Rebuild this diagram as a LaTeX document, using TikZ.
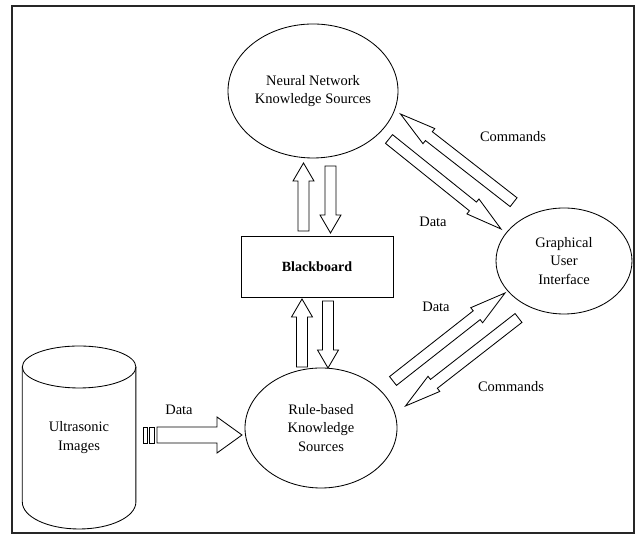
\documentclass[tikz,border=0pt]{standalone}
\usepackage{fontspec}
\setmainfont{Liberation Serif}
\usepackage{tikz}
\usetikzlibrary{shapes,arrows,calc}
\tikzset{
	source/.style   = {draw, ellipse, align=center, inner sep=0pt},
	board/.style    = {draw, rectangle, minimum width=3.8cm,
		minimum height=1.525cm, font=\bfseries},
	tag/.style      = {inner sep=0pt}, % Arrow labels
	frame/.style    = {line width=1.4pt, black!85}
}
% hollow block arrow: body half width, head half width, head length, from, to
\newcommand{\blockarrow}[5]{%
	\coordinate (hb) at ($(#5)!#3!(#4)$);
	\draw ($(#4)!#1!90:(#5)$) -- ($(hb)!#1!90:(#5)$) -- ($(hb)!#2!90:(#5)$)
	-- (#5) -- ($(hb)!#2!-90:(#5)$) -- ($(hb)!#1!-90:(#5)$)
	-- ($(#4)!#1!-90:(#5)$) -- cycle;}

\begin{document}
\begin{tikzpicture}[auto, line width=0.6pt, >=latex,
	font=\fontsize{10.3}{12.9}\selectfont]
		\useasboundingbox (0,0) rectangle (15.9,13.375);
		\draw[frame] (0.3,0.05) rectangle (15.86,13.225);
		
		\draw
		% Drawing the knowledge sources, the blackboard and the interface
		node at (7.825,11.1)[source, minimum width=4.25cm, minimum height=3.35cm] (kn) {Neural Network\\Knowledge Sources}
		node at (7.925,6.7)[board] (bb) {Blackboard}
		node at (14.1,6.85)[source, minimum width=3.4cm, minimum height=2.65cm] (gui) {Graphical\\User\\Interface}
		node at (8.025,2.675)[source, minimum width=3.8cm, minimum height=3cm] (kr) {Rule-based\\Knowledge\\Sources}
		node at (1.975,2.4375)[align=center] (us) {Ultrasonic\\Images};
		
		% Drawing the image store
		\draw (0.5575,4.2) -- (0.5575,0.825) arc[start angle=180, end angle=360, x radius=1.42cm, y radius=0.675cm] -- (3.3975,4.2);
		\draw (1.9775,4.2) ellipse [x radius=1.42cm, y radius=0.525cm];
		
		% Arrow ends
		\coordinate (a1) at (7.5875,7.6);   \coordinate (a2) at (7.5875,9.3);
		\coordinate (b1) at (8.2625,9.225); \coordinate (b2) at (8.2625,7.55);
		\coordinate (c1) at (7.55,4.2);     \coordinate (c2) at (7.55,5.9);
		\coordinate (d1) at (8.2,5.85);     \coordinate (d2) at (8.2,4.175);
		\coordinate (e1) at (12.84,8.32);   \coordinate (e2) at (10.0125,10.525);
		\coordinate (f1) at (9.725,9.9);    \coordinate (f2) at (12.525,7.65);
		\coordinate (g1) at (9.825,3.85);   \coordinate (g2) at (12.625,6.05);
		\coordinate (h1) at (12.9625,5.425);\coordinate (h2) at (10.1375,3.225);
		\coordinate (i1) at (3.925,2.5);    \coordinate (i2) at (6.05,2.5);
		
		\blockarrow{0.1375cm}{0.2625cm}{0.45cm}{a1}{a2}
		\blockarrow{0.1375cm}{0.2625cm}{0.45cm}{b1}{b2}
		\blockarrow{0.1375cm}{0.2625cm}{0.45cm}{c1}{c2}
		\blockarrow{0.1375cm}{0.2625cm}{0.45cm}{d1}{d2}
		\blockarrow{0.14cm}{0.24cm}{0.9cm}{e1}{e2}
		\blockarrow{0.14cm}{0.24cm}{0.9cm}{f1}{f2}
		\blockarrow{0.14cm}{0.24cm}{0.9cm}{g1}{g2}
		\blockarrow{0.14cm}{0.24cm}{0.9cm}{h1}{h2}
		\blockarrow{0.2cm}{0.45cm}{0.625cm}{i1}{i2}
		\draw (3.575,2.3) rectangle (3.675,2.7);
		\draw (3.725,2.3) rectangle (3.85,2.7);
		
		\draw
		node at (12.825,9.95)[tag] (cm1) {Commands}
		node at (10.825,7.825)[tag] (dt1) {Data}
		node at (10.9,5.7)[tag] (dt2) {Data}
		node at (12.775,3.7)[tag] (cm2) {Commands}
		node at (4.475,3.125)[tag] (dt3) {Data};
		
\end{tikzpicture}
\end{document}
